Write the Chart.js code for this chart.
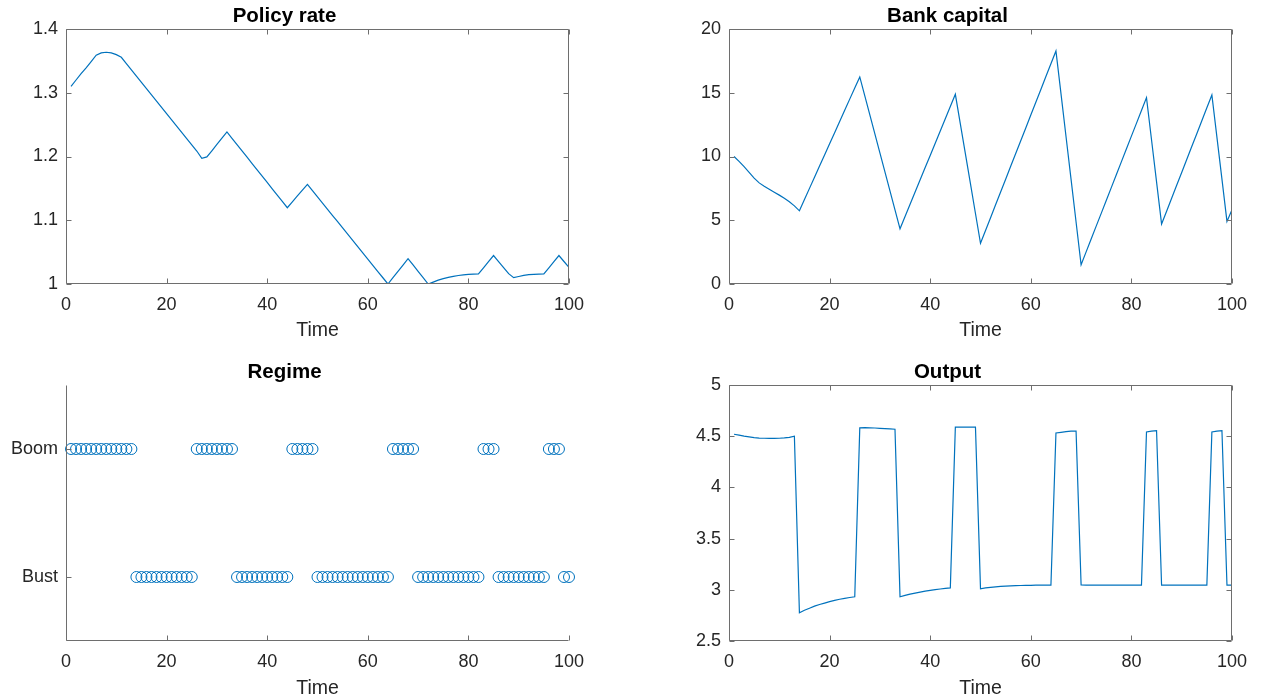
<!DOCTYPE html>
<html>
<head>
<meta charset="utf-8">
<script src="https://cdn.jsdelivr.net/npm/chart.js@4.4.1/dist/chart.umd.min.js"></script>
<style>
  html, body { margin: 0; padding: 0; background: #ffffff; overflow: hidden; width: 1261px; height: 700px; }
  .panel { position: absolute; }
</style>
</head>
<body>
<div class="panel" style="left:0px;top:0px;"><canvas id="c1" width="635" height="344"></canvas></div>
<div class="panel" style="left:663px;top:0px;"><canvas id="c2" width="635" height="344"></canvas></div>
<div class="panel" style="left:0px;top:356px;"><canvas id="c3" width="635" height="345"></canvas></div>
<div class="panel" style="left:663px;top:356px;"><canvas id="c4" width="635" height="345"></canvas></div>
<script>
// ---------------- DATA ----------------
const times = [1,2,3,4,5,6,7,8,9,10,11,12,13,14,15,16,17,18,19,20,
  21,22,23,24,25,26,27,28,29,30,31,32,33,34,35,36,37,38,39,40,
  41,42,43,44,45,46,47,48,49,50,51,52,53,54,55,56,57,58,59,60,
  61,62,63,64,65,66,67,68,69,70,71,72,73,74,75,76,77,78,79,80,
  81,82,83,84,85,86,87,88,89,90,91,92,93,94,95,96,97,98,99,100];

const policyRate = [1.310,1.320,1.330,1.339,1.349,1.359,1.3625,1.3635,1.3625,1.3598,
  1.3556,1.3458,1.336,1.3262,1.3164,1.3066,1.2968,1.287,1.2772,1.2674,
  1.2576,1.2478,1.238,1.2282,1.2184,1.2086,1.1972,1.1993,1.209,1.2189,
  1.2287,1.2385,1.2286,1.2187,1.2088,1.1989,1.189,1.1791,1.1692,1.1593,
  1.1494,1.1395,1.1296,1.1197,1.1289,1.1381,1.1473,1.1563,1.1465,1.1367,
  1.127,1.1172,1.1074,1.0977,1.0879,1.0781,1.0684,1.0586,1.0488,1.0391,
  1.0293,1.0195,1.0098,1.0,1.0099,1.0199,1.0298,1.0398,1.0299,1.0199,
  1.01,1.0,1.003,1.006,1.0085,1.0105,1.012,1.0133,1.0143,1.015,
  1.0155,1.0157,1.0253,1.035,1.0447,1.0352,1.0257,1.0162,1.0100,1.0118,
  1.0135,1.0146,1.0152,1.0155,1.0157,1.0253,1.035,1.0447,1.0353,1.026];

const bankCapital = [10.0,9.62,9.2,8.75,8.3,7.93,7.67,7.43,7.2,6.97,
  6.72,6.45,6.13,5.74,6.62,7.5,8.37,9.25,10.12,11.0,
  11.87,12.75,13.62,14.5,15.37,16.24,14.75,13.26,11.77,10.28,
  8.8,7.31,5.82,4.33,5.29,6.25,7.21,8.17,9.13,10.08,
  11.04,12.0,12.96,13.92,14.88,12.54,10.2,7.87,5.53,3.19,
  4.2,5.2,6.21,7.21,8.22,9.23,10.23,11.24,12.24,13.25,
  14.25,15.26,16.27,17.27,18.28,14.93,11.57,8.22,4.86,1.51,
  2.52,3.53,4.54,5.54,6.55,7.56,8.57,9.58,10.59,11.6,
  12.6,13.61,14.62,11.31,8.01,4.70,5.71,6.73,7.74,8.75,
  9.77,10.78,11.79,12.8,13.82,14.83,11.52,8.22,4.91,5.82];

// 1 = Boom, 0 = Bust
const regime = [1,1,1,1,1,1,1,1,1,1,
  1,1,1,0,0,0,0,0,0,0,
  0,0,0,0,0,1,1,1,1,1,
  1,1,1,0,0,0,0,0,0,0,
  0,0,0,0,1,1,1,1,1,0,
  0,0,0,0,0,0,0,0,0,0,
  0,0,0,0,1,1,1,1,1,0,
  0,0,0,0,0,0,0,0,0,0,
  0,0,1,1,1,0,0,0,0,0,
  0,0,0,0,0,1,1,1,0,0];

const output = [4.519,4.51,4.50,4.494,4.487,4.482,4.48,4.479,4.479,4.48,
  4.483,4.488,4.50,2.776,2.80,2.82,2.84,2.856,2.87,2.885,
  2.897,2.908,2.917,2.925,2.932,4.581,4.583,4.582,4.580,4.577,
  4.574,4.571,4.568,2.932,2.945,2.957,2.968,2.978,2.987,2.995,
  3.002,3.008,3.014,3.019,4.588,4.588,4.588,4.588,4.588,3.010,
  3.018,3.024,3.029,3.033,3.036,3.039,3.041,3.042,3.043,3.044,
  3.045,3.045,3.045,3.045,4.532,4.538,4.544,4.549,4.549,3.047,
  3.045,3.046,3.046,3.046,3.046,3.046,3.046,3.046,3.046,3.046,
  3.046,3.046,4.542,4.550,4.555,3.045,3.045,3.045,3.045,3.045,
  3.045,3.045,3.045,3.045,3.045,4.542,4.550,4.555,3.045,3.045];

const regimeTickValues = [0, 1];
const regimeTickLabels = ['Bust', 'Boom'];
const panelTitles = ['Policy rate', 'Bank capital', 'Regime', 'Output'];
const xLabel = 'Time';

// ---------------- STYLE ----------------
const FONT = '"Liberation Sans", Arial, Helvetica, sans-serif';
const LINE = '#0072BD';
const AXC = '#262626';
const TICK_SIZE = 18;

// Frame + inward ticks (MATLAB style)
const framePlugin = {
  id: 'frame',
  afterDraw(chart, args, opts) {
    const ctx = chart.ctx;
    const a = chart.chartArea;
    const xs = chart.scales.x, ys = chart.scales.y;
    const L = Math.round(a.left) + 0.5, R = Math.round(a.right) - 0.5;
    const T = Math.round(a.top) + 0.5, B = Math.round(a.bottom) - 0.5;
    const tl = 5;
    ctx.save();
    ctx.strokeStyle = '#6e6e6e';
    ctx.lineWidth = 1;
    ctx.beginPath();
    ctx.moveTo(L, T); ctx.lineTo(L, B); ctx.lineTo(R, B);
    if (opts.box) { ctx.lineTo(R, T); ctx.lineTo(L, T); }
    for (const t of xs.ticks) {
      const px = Math.round(xs.getPixelForValue(t.value)) + 0.5;
      ctx.moveTo(px, B); ctx.lineTo(px, B - tl);
      if (opts.box) { ctx.moveTo(px, T); ctx.lineTo(px, T + tl); }
    }
    for (const t of ys.ticks) {
      const py = Math.round(ys.getPixelForValue(t.value)) + 0.5;
      ctx.moveTo(L, py); ctx.lineTo(L + tl, py);
      if (opts.box) { ctx.moveTo(R, py); ctx.lineTo(R - tl, py); }
    }
    ctx.stroke();
    ctx.restore();
  }
};

const fmt = (v) => String(parseFloat(Number(v).toFixed(4)));

function makePanel(canvasId, cfg) {
  const points = times.map((t, i) => ({ x: t, y: cfg.values[i] }));
  const ds = cfg.scatter ? {
    data: points,
    showLine: false,
    clip: false,
    pointStyle: 'circle',
    pointRadius: 5.5,
    pointHoverRadius: 5.5,
    pointBorderWidth: 1,
    pointBorderColor: LINE,
    pointBackgroundColor: 'rgba(0,0,0,0)',
    borderColor: LINE,
    backgroundColor: 'rgba(0,0,0,0)'
  } : {
    data: points,
    borderColor: LINE,
    borderWidth: 1.2,
    pointRadius: 0,
    tension: 0,
    fill: false
  };
  const yTicks = {
    color: AXC,
    font: { family: FONT, size: TICK_SIZE },
    padding: 8,
    callback: fmt
  };
  if (cfg.yStep) yTicks.stepSize = cfg.yStep;
  if (cfg.yLabels) {
    yTicks.callback = (v) => {
      const k = cfg.yTickValues.indexOf(v);
      return k >= 0 ? cfg.yLabels[k] : '';
    };
  }
  const yScale = {
    type: 'linear',
    min: cfg.yMin, max: cfg.yMax,
    grid: { display: false, drawTicks: false },
    border: { display: false },
    ticks: yTicks,
    afterFit: (s) => { s.width = 66; }
  };
  if (cfg.yTickValues) {
    yScale.afterBuildTicks = (s) => { s.ticks = cfg.yTickValues.map(v => ({ value: v })); };
  }
  new Chart(document.getElementById(canvasId), {
    type: 'line',
    data: { datasets: [ds] },
    plugins: [framePlugin],
    options: {
      responsive: false,
      animation: false,
      devicePixelRatio: 1,
      events: [],
      layout: { padding: { left: 0, right: 66, top: 0, bottom: 0 } },
      plugins: {
        legend: { display: false },
        tooltip: { enabled: false },
        title: {
          display: true,
          text: cfg.title,
          color: '#000000',
          font: { family: FONT, size: 20.5, weight: 'bold', lineHeight: 1.2 },
          padding: { top: 4, bottom: 0.4 }
        },
        frame: { box: cfg.box }
      },
      scales: {
        x: {
          type: 'linear',
          min: 0, max: 100,
          grid: { display: false, drawTicks: false },
          border: { display: false },
          ticks: { stepSize: 20, color: AXC, font: { family: FONT, size: TICK_SIZE }, padding: 10.5, maxRotation: 0, callback: fmt },
          title: {
            display: true, text: xLabel, color: AXC,
            font: { family: FONT, size: 19.5, lineHeight: 1.2 },
            padding: { top: 0, bottom: cfg.xTitlePad }
          },
          afterFit: (s) => { s.height = cfg.xHeight; }
        },
        y: yScale
      }
    }
  });
}

makePanel('c1', { title: panelTitles[0], values: policyRate, yMin: 1, yMax: 1.4, yStep: 0.1, box: true, xHeight: 60, xTitlePad: 2 });
makePanel('c2', { title: panelTitles[1], values: bankCapital, yMin: 0, yMax: 20, yStep: 5, box: true, xHeight: 60, xTitlePad: 2 });
makePanel('c3', { title: panelTitles[2], values: regime, yMin: -0.5, yMax: 1.5, yTickValues: regimeTickValues, yLabels: regimeTickLabels, scatter: true, box: false, xHeight: 60, xTitlePad: 1 });
makePanel('c4', { title: panelTitles[3], values: output, yMin: 2.5, yMax: 5, yStep: 0.5, box: true, xHeight: 60, xTitlePad: 1 });
</script>
</body>
</html>
